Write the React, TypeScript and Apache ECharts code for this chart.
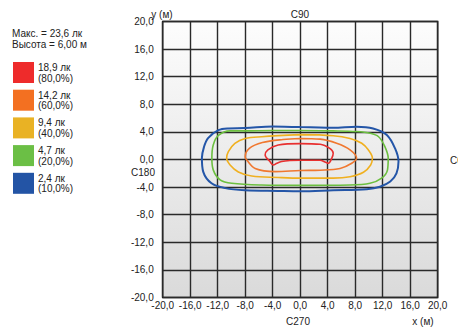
import React, { useEffect, useRef } from "react";
import * as echarts from "echarts";

const axisTicks = [-20, -16, -12, -8, -4, 0, 4, 8, 12, 16, 20];

const legendColors = ["#ee2b2b", "#f37021", "#e9b224", "#6bbf45", "#2354a5"];
const legendLux = ["18,9 лк", "14,2 лк", "9,4 лк", "4,7 лк", "2,4 лк"];
const legendPct = ["(80,0%)", "(60,0%)", "(40,0%)", "(20,0%)", "(10,0%)"];
const infoLines = ["Макс. = 23,6 лк", "Высота = 6,00 м"];

const redContour: number[][] = [
  [0, 2.3], [2.9, 2.2], [4.3, 1.6], [4.8, 0.9], [4.6, 0.2], [4.1, -0.55], [3.6, -0.35],
  [2.9, -0.1], [0, -0.1], [-1.5, -0.15], [-2.7, -0.3], [-3.4, -0.55], [-3.9, -0.8],
  [-4.4, -0.3], [-5.1, 0.65], [-4.7, 1.4], [-3.2, 2.1], [0, 2.3],
];
const orangeContour: number[][] = [
  [0, 3.05], [2.9, 2.95], [5.3, 2.35], [7.25, 1.4], [8.2, 0.2], [7.5, -0.55], [5.8, -1.3],
  [2.9, -1.55], [0, -1.6], [-3.65, -1.75], [-6.55, -1.3], [-7.8, -0.05], [-8.0, 0.4],
  [-7.4, 1.6], [-5.5, 2.45], [-2.5, 2.9], [0, 3.05],
];
const yellowContour: number[][] = [
  [0, 3.6], [4.8, 3.45], [7.25, 3.05], [8.95, 2.35], [9.9, 1.4], [10.5, 0.2], [10.25, -0.8],
  [9.2, -1.85], [7.25, -2.5], [4.8, -2.7], [0, -2.7], [-3.2, -2.6], [-7.05, -2.4],
  [-9.0, -1.8], [-10.2, -0.8], [-10.7, 0.2], [-10.45, 1.15], [-9.5, 2.35], [-8.0, 3.05],
  [-5.6, 3.3], [0, 3.6],
];
const greenContour: number[][] = [
  [0, 4.2], [4.8, 4.15], [8.2, 4.05], [10.2, 3.8], [11.4, 3.3], [12.3, 1.9], [12.8, 0.2],
  [12.7, -1.5], [11.85, -2.7], [10.15, -3.45], [7.2, -3.7], [0, -3.75], [-5.6, -3.7],
  [-9.95, -3.45], [-11.65, -2.95], [-12.65, -1.5], [-12.85, 0.2], [-12.65, 2.1],
  [-11.9, 3.5], [-10.2, 4.15], [-8, 4.15], [-4, 4.2], [0, 4.2],
];
const blueContour: number[][] = [
  [0, 4.7], [4.8, 4.6], [8.2, 4.75], [10.6, 4.5], [12.6, 3.55], [13.8, 1.6], [14.3, -0.3],
  [14.0, -2.0], [13.1, -3.2], [11.6, -3.95], [9.7, -4.3], [4.8, -4.45], [0, -4.6],
  [-3.2, -4.55], [-8.0, -4.45], [-10.9, -4.15], [-12.9, -3.45], [-14.1, -1.8],
  [-14.3, 0.2], [-14.0, 1.8], [-13.4, 3.1], [-11.9, 4.25], [-10.5, 4.5], [-8, 4.55],
  [-4, 4.8], [0, 4.7],
];

const contours = [redContour, orangeContour, yellowContour, greenContour, blueContour];
const lineColors = ["#e83030", "#f07830", "#f0b020", "#6cbf40", "#2456a8"];

const tickFont = "'Liberation Sans Narrow', 'Liberation Sans', sans-serif";
const textFont = "'Liberation Sans', 'Noto Sans', sans-serif";

function fmt(v: number) {
  return v.toFixed(1).replace(".", ",");
}

export default function App() {
  const ref = useRef<HTMLDivElement>(null);
  useEffect(() => {
    if (!ref.current) return;
    const chart = echarts.init(ref.current, undefined, { renderer: "svg" });

    const graphics: any[] = [];
    infoLines.forEach((t, i) => {
      graphics.push({
        type: "text",
        left: 12,
        top: 28 + i * 11,
        style: { text: t, fontSize: 10, fontFamily: textFont, fill: "#222" },
      });
    });
    legendColors.forEach((c, i) => {
      const top = 62 + i * 27.7;
      graphics.push({
        type: "rect",
        shape: { x: 13, y: top, width: 21, height: 21 },
        style: { fill: c },
      });
      graphics.push({
        type: "text",
        left: 38,
        top: top + 0.5,
        style: { text: legendLux[i], fontSize: 10, fontFamily: textFont, fill: "#222" },
      });
      graphics.push({
        type: "text",
        left: 38,
        top: top + 11,
        style: { text: legendPct[i], fontSize: 10, fontFamily: textFont, fill: "#222" },
      });
    });
    const labels: [string, number, number, string][] = [
      ["y (м)", 162, 14.5, "center"],
      ["C90", 300, 14.5, "center"],
      ["C180", 143, 172, "center"],
      ["C270", 298, 321.5, "center"],
      ["x (м)", 423, 321.5, "center"],
      ["C0", 450, 160, "left"],
    ];
    labels.forEach(([t, x, y, align]) => {
      graphics.push({
        type: "text",
        x,
        y,
        style: {
          text: t,
          fontSize: 10,
          fontFamily: textFont,
          fill: "#222",
          textAlign: align,
          verticalAlign: "middle",
        },
      });
    });

    const axisCommon = {
      type: "value",
      min: axisTicks[0],
      max: axisTicks[axisTicks.length - 1],
      interval: 4,
      axisLine: { show: false },
      axisTick: { show: false },
      splitLine: { show: true, lineStyle: { color: "#2a2a2a", width: 1.4 } },
    };

    chart.setOption({
      animation: false,
      grid: {
        left: 162.7,
        right: 20.3,
        top: 21.5,
        bottom: 32.5,
        show: true,
        borderColor: "#111",
        borderWidth: 1.5,
        backgroundColor: new echarts.graphic.LinearGradient(0, 0, 0, 1, [
          { offset: 0, color: "#fdfdfd" },
          { offset: 1, color: "#dadada" },
        ]),
      },
      xAxis: {
        ...axisCommon,
        axisLabel: {
          formatter: (v: number) => fmt(v),
          fontSize: 10,
          fontFamily: tickFont,
          color: "#222",
          margin: 3,
        },
      },
      yAxis: {
        ...axisCommon,
        axisLabel: {
          formatter: (v: number) => fmt(v),
          fontSize: 10,
          fontFamily: tickFont,
          color: "#222",
          margin: 9,
        },
      },
      series: contours.map((d, i) => ({
        type: "line",
        data: d,
        showSymbol: false,
        smooth: 0.35,
        silent: true,
        lineStyle: { color: lineColors[i], width: i === 4 ? 2 : 1.6 },
        z: 10 - i,
      })),
      graphic: graphics,
    });
    return () => chart.dispose();
  }, []);
  return (
    <div
      ref={ref}
      style={{ position: "fixed", left: 0, top: 0, width: 458, height: 330, background: "#fff" }}
    />
  );
}
